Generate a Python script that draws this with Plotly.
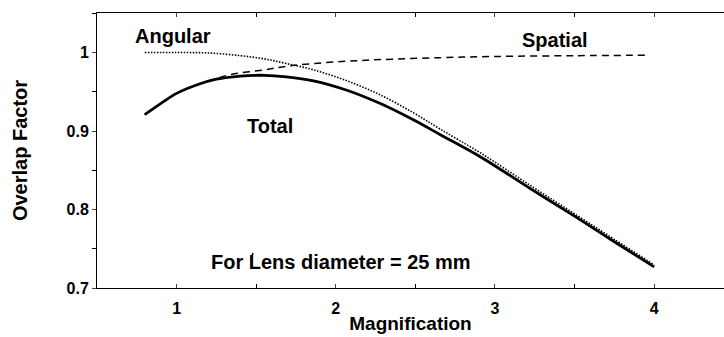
import plotly.graph_objects as go

# Data
total_x = [0.8, 0.9, 1.0, 1.13, 1.25, 1.4, 1.55, 1.69, 1.86, 2.07, 2.28, 2.49, 2.66, 2.91, 3.22, 3.52, 3.75, 4.0]
total_y = [0.921, 0.935, 0.948, 0.959, 0.966, 0.970, 0.971, 0.969, 0.964, 0.952, 0.935, 0.914, 0.895, 0.867, 0.827, 0.789, 0.759, 0.727]

angular_x = [0.8, 1.0, 1.2, 1.4, 1.55, 1.69, 1.86, 2.07, 2.28, 2.49, 2.66, 2.91, 3.22, 3.52, 3.75, 4.0]
angular_y = [1.0, 1.0, 0.9995, 0.996, 0.992, 0.986, 0.978, 0.964, 0.946, 0.923, 0.902, 0.872, 0.831, 0.792, 0.762, 0.7295]

spatial_x = [0.8, 0.9, 1.0, 1.13, 1.25, 1.34, 1.55, 1.69, 1.86, 2.07, 2.28, 2.66, 3.0, 3.5, 3.975]
spatial_y = [0.921, 0.935, 0.948, 0.959, 0.967, 0.972, 0.978, 0.9825, 0.986, 0.989, 0.991, 0.9935, 0.995, 0.996, 0.9966]

x_ticks = [1, 2, 3, 4]
y_ticks = [0.7, 0.8, 0.9, 1.0]
y_tick_labels = ["0.7", "0.8", "0.9", "1"]

FONT = "Liberation Sans, Arial, Helvetica, sans-serif"

fig = go.Figure()
fig.add_trace(go.Scatter(x=spatial_x, y=spatial_y, mode="lines", line_shape="spline",
                         line=dict(color="black", width=1.5, dash="7px,5px"), name="Spatial"))
fig.add_trace(go.Scatter(x=angular_x, y=angular_y, mode="lines", line_shape="spline",
                         line=dict(color="black", width=1.6, dash="1.5px,1.5px"), name="Angular"))
fig.add_trace(go.Scatter(x=total_x, y=total_y, mode="lines", line_shape="spline",
                         line=dict(color="black", width=2.8), name="Total"))

labels = [
    ("Angular", 0.98, 1.0208, 20),
    ("Spatial", 3.378, 1.0157, 20),
    ("Total", 1.589, 0.906, 20),
    ("For Lens diameter = 25 mm", 2.035, 0.733, 20),
]
for text, x, y, size in labels:
    fig.add_annotation(x=x, y=y, text=text, showarrow=False, xref="x", yref="y",
                       font=dict(family=FONT, size=size, color="black", weight="bold"))

# small stray mark above the "L"
fig.add_shape(type="line", x0=1.466, y0=0.7358, x1=1.480, y1=0.7445,
              line=dict(color="black", width=1.5))

fig.update_layout(
    width=724, height=337,
    margin=dict(l=97, r=0, t=13, b=49),
    paper_bgcolor="white", plot_bgcolor="white",
    showlegend=False,
    font=dict(family=FONT, color="black"),
)
fig.update_xaxes(
    range=[0.5, 4.439], tickvals=x_ticks, ticks="inside", ticklen=4,
    minor=dict(dtick=0.5, tick0=0.5, ticks="inside", ticklen=4, tickcolor="black"),
    showline=True, linecolor="black", linewidth=1, mirror="ticks", showgrid=False, zeroline=False,
    tickfont=dict(size=16, weight="bold", family=FONT), ticklabelstandoff=6,
    title=dict(text="Magnification", font=dict(size=19, weight="bold", family=FONT), standoff=0),
)
fig.update_yaxes(
    range=[0.7, 1.0504], tickvals=y_ticks, ticktext=y_tick_labels, ticks="outside", ticklen=4,
    minor=dict(dtick=0.05, tick0=0.7, ticks="outside", ticklen=4, tickcolor="black"),
    showline=True, linecolor="black", linewidth=1, showgrid=False, zeroline=False,
    tickfont=dict(size=16, weight="bold", family=FONT),
    title=dict(text="Overlap Factor", font=dict(size=20, weight="bold", family=FONT), standoff=33),
)

fig.write_html("out.html", config={"displayModeBar": False},
               post_script="document.body.style.margin='0';document.body.style.overflow='hidden';")
